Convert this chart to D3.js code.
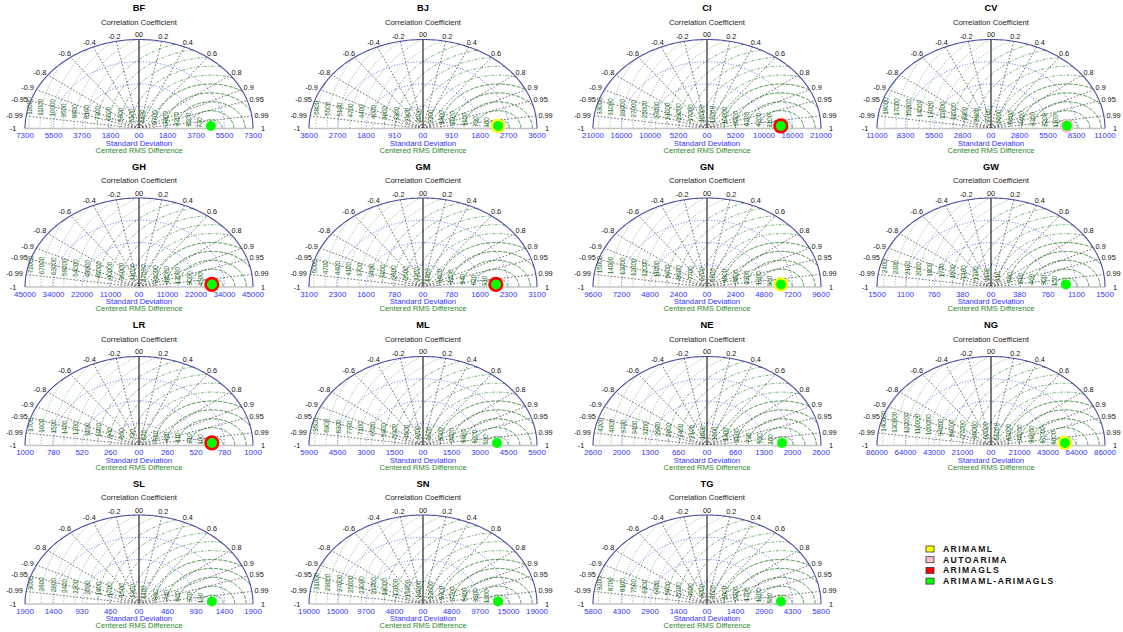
<!DOCTYPE html>
<html>
<head>
<meta charset="utf-8">
<script src="https://cdn.jsdelivr.net/npm/d3@7"></script>
<style>
  body { margin: 0; background: #fff; }
  svg { display: block; }
  text { font-family: "Liberation Sans", Arial, Helvetica, sans-serif; }
</style>
</head>
<body>
<svg id="chart" width="1123" height="632"></svg>
<script>
// ---- data -------------------------------------------------------------
const regions = ["BF", "BJ", "CI", "CV", "GH", "GM", "GN", "GW", "LR", "ML", "NE", "NG", "SL", "SN", "TG"];

// outer radius of each diagram (standard deviation units)
const axisMax = [7320, 3640, 20800, 11040, 44800, 3120, 9600, 1520, 1040, 5940, 2640, 85600, 1860, 19350, 5780];

// standard deviation tick labels (0, R/4, R/2, 3R/4, R)
const stdTickLabels = [
  ["00", "1800", "3700", "5500", "7300"],
  ["00", "910", "1800", "2700", "3600"],
  ["00", "5200", "10000", "16000", "21000"],
  ["00", "2800", "5500", "8300", "11000"],
  ["00", "11000", "22000", "34000", "45000"],
  ["00", "780", "1600", "2300", "3100"],
  ["00", "2400", "4800", "7200", "9600"],
  ["00", "380", "760", "1100", "1500"],
  ["00", "260", "520", "780", "1000"],
  ["00", "1500", "3000", "4500", "5900"],
  ["00", "660", "1300", "2000", "2600"],
  ["00", "21000", "43000", "64000", "86000"],
  ["00", "460", "930", "1400", "1900"],
  ["00", "4800", "9700", "15000", "19000"],
  ["00", "1400", "2900", "4300", "5800"]
];

// observed (reference) standard deviation: centre of the RMS circles
const refStd = [4620, 2400, 13500, 7360, 28700, 2000, 6230, 1000, 666, 3860, 1740, 55600, 1190, 12750, 3750];

// correlation ticks on the outer arc
const corrTicks = [-1, -0.99, -0.95, -0.9, -0.8, -0.6, -0.4, -0.2, 0, 0.2, 0.4, 0.6, 0.8, 0.9, 0.95, 0.99, 1];
const corrTickLabels = ["-1", "-0.99", "-0.95", "-0.9", "-0.8", "-0.6", "-0.4", "-0.2", "00", "0.2", "0.4", "0.6", "0.8", "0.9", "0.95", "0.99", "1"];

// models
const models = ["ARIMAML", "AUTOARIMA", "ARIMAGLS", "ARIMAML-ARIMAGLS"];
const modelColors = ["#ffff00", "#ffc0cb", "#ff0000", "#00ff00"];

// standard deviation and correlation of each model per region (null: not plotted)
const stdARIMAML   = [null, 2395, null, null, null, null, 6225, null, null, null, null, 55500, null, null, null];
const corrARIMAML  = [null, 0.999, null, null, null, null, 0.999, null, null, null, null, 0.999, null, null, null];
const stdAUTOARIMA  = [null, null, null, 7350, null, null, null, null, null, null, null, null, null, null, null];
const corrAUTOARIMA = [null, null, null, 0.999, null, null, null, null, null, null, null, null, null, null, null];
const stdARIMAGLS  = [null, null, 13480, null, 28650, 1995, null, null, 665, null, null, null, null, null, null];
const corrARIMAGLS = [null, null, 0.999, null, 0.999, 0.999, null, null, 0.999, null, null, null, null, null, null];
const stdCombined  = [4620, 2400, 13500, 7360, 28700, 2000, 6230, 1000, 666, 3860, 1740, 55600, 1190, 12750, 3750];
const corrCombined = [0.999, 0.999, 0.999, 0.999, 0.999, 0.999, 0.999, 0.999, 0.999, 0.999, 0.999, 0.999, 0.999, 0.999, 0.999];

const modelStd = [stdARIMAML, stdAUTOARIMA, stdARIMAGLS, stdCombined];
const modelCorr = [corrARIMAML, corrAUTOARIMA, corrARIMAGLS, corrCombined];
const markerRadius = [7.2, 7, 7.6, 5];

// ---- layout -------------------------------------------------------------
const colX = [139, 423, 707, 991];
const rowBase = [128.5, 287, 445.5, 604];
const RX = 114, RY = 89;

const blue = "#3434ff";
const fmt2 = d3.format(".2r");

const svg = d3.select("#chart");

regions.forEach((name, i) => {
  const col = i % 4, row = Math.floor(i / 4);
  const cx = colX[col], by = rowBase[row];
  const R = axisMax[i], ref = refStd[i];

  const x = d3.scaleLinear().domain([-R, R]).range([cx - RX, cx + RX]);
  const y = d3.scaleLinear().domain([0, R]).range([by, by - RY]);
  const line = d3.line().x(d => x(d[0])).y(d => y(d[1]));
  const arcPts = (cxD, rad, t0, t1, n = 140) =>
    d3.range(n + 1).map(j => {
      const t = t0 + (t1 - t0) * j / n;
      return [cxD + rad * Math.cos(t), rad * Math.sin(t)];
    });

  const g = svg.append("g").attr("class", "taylor");

  // standard deviation arcs
  const stdVals = d3.range(5).map(k => k * R / 4);
  stdVals.slice(1, 4).forEach(s => {
    g.append("path").attr("d", line(arcPts(0, s, 0, Math.PI)))
      .attr("fill", "none").attr("stroke", "#5050ff")
      .attr("stroke-width", 0.8).attr("stroke-dasharray", "1,1.8");
  });

  // centered RMS difference circles around the reference point
  const step = R / 10;
  const rmsVals = [];
  for (let k = 1; ref - k * step >= -R; k++) rmsVals.push(k * step);
  rmsVals.forEach((r, k) => {
    const a = (R * R - ref * ref - r * r) / (2 * ref * r);
    if (a < -1) return;
    const t0 = a >= 1 ? 0 : Math.acos(a);
    const tier = k < 5 ? 0 : (k < 10 ? 1 : 2);
    g.append("path").attr("d", line(arcPts(ref, r, t0, Math.PI)))
      .attr("fill", "none")
      .attr("stroke", ["#338c33", "#529f52", "#72b872"][tier])
      .attr("stroke-width", [0.95, 0.85, 0.8][tier])
      .attr("stroke-dasharray", ["4,1.3", "3,1.6,1,1.6", "1.2,1.6"][tier]);
    // label at the foot of the circle
    const th = Math.PI * 174.5 / 180;
    const lx = x(ref + r * Math.cos(th)), ly = y(r * Math.sin(th));
    g.append("text").attr("transform", `translate(${lx},${ly}) rotate(-90)`)
      .attr("text-anchor", "start").attr("dominant-baseline", "central")
      .attr("font-size", 6.3).attr("fill", "#1f6f1f")
      .text(fmt2(r));
  });

  // correlation rays
  corrTicks.forEach(c => {
    if (Math.abs(c) === 1) return;
    const s = Math.sqrt(1 - c * c);
    const ray = g.append("path").attr("d", line([[0, 0], [R * c, R * s]]))
      .attr("fill", "none");
    if (c === 0) ray.attr("stroke", "#111").attr("stroke-width", 1.1);
    else ray.attr("stroke", "#333").attr("stroke-width", 0.7).attr("stroke-dasharray", "1.6,1.8");
  });

  // outer arc and base line
  g.append("path").attr("d", line([[-R, 0], [R, 0]]))
    .attr("stroke", "#c4c4c4").attr("stroke-width", 1.6);
  g.append("path").attr("d", line(arcPts(0, R, 0, Math.PI)))
    .attr("fill", "none").attr("stroke", "#4d4da6").attr("stroke-width", 1.1);

  // correlation labels
  corrTicks.forEach((c, j) => {
    const s = Math.sqrt(1 - c * c);
    const label = corrTickLabels[j];
    const w = label.length * 3.9;
    const extra = Math.abs(c) === 1 ? 6 : 0;
    const px = x(R * c) + 2 * c + c * w / 2 + Math.sign(c) * extra;
    const py = y(R * s) - 2 * s - s * 3;
    g.append("text").attr("x", px).attr("y", py)
      .attr("text-anchor", "middle").attr("dominant-baseline", "central")
      .attr("font-size", 7.3).attr("fill", "#111").text(label);
  });

  // standard deviation tick labels on both sides
  stdVals.forEach((s, k) => {
    [s, -s].forEach((v, side) => {
      if (side === 1 && s === 0) return;
      g.append("text").attr("x", x(v)).attr("y", by + 7)
        .attr("text-anchor", "middle").attr("dominant-baseline", "central")
        .attr("font-size", 7.9).attr("fill", blue).text(stdTickLabels[i][k]);
    });
  });

  // titles
  g.append("text").attr("x", cx).attr("y", by - 120.5)
    .attr("text-anchor", "middle").attr("dominant-baseline", "central")
    .attr("font-size", 9.3).attr("font-weight", "bold").attr("fill", "#000").text(name);
  g.append("text").attr("x", cx).attr("y", by - 106.5)
    .attr("text-anchor", "middle").attr("dominant-baseline", "central")
    .attr("font-size", 7.7).attr("fill", "#222").text("Correlation Coefficient");
  g.append("text").attr("x", cx).attr("y", by + 14.5)
    .attr("text-anchor", "middle").attr("dominant-baseline", "central")
    .attr("font-size", 7.8).attr("fill", blue).text("Standard Deviation");
  g.append("text").attr("x", cx).attr("y", by + 21.5)
    .attr("text-anchor", "middle").attr("dominant-baseline", "central")
    .attr("font-size", 7.6).attr("fill", "#2a8a2a").text("Centered RMS Difference");

  // model points
  models.forEach((m, k) => {
    const s = modelStd[k][i], c = modelCorr[k][i];
    if (s == null || c == null) return;
    g.append("circle")
      .attr("cx", x(s * c)).attr("cy", y(s * Math.sqrt(1 - c * c)))
      .attr("r", markerRadius[k]).attr("fill", modelColors[k]);
  });
});

// legend
const legend = svg.append("g").attr("class", "legend");
models.forEach((m, k) => {
  const ly = 549 + k * 10.7;
  legend.append("rect").attr("x", 926).attr("y", ly - 3).attr("width", 8).attr("height", 6)
    .attr("fill", modelColors[k]).attr("stroke", "#333").attr("stroke-width", 0.8);
  legend.append("text").attr("x", 943).attr("y", ly).attr("dominant-baseline", "central")
    .attr("font-size", 8.6).attr("font-weight", "bold").attr("letter-spacing", 1.4)
    .attr("fill", "#111").text(m);
});
</script>
</body>
</html>
